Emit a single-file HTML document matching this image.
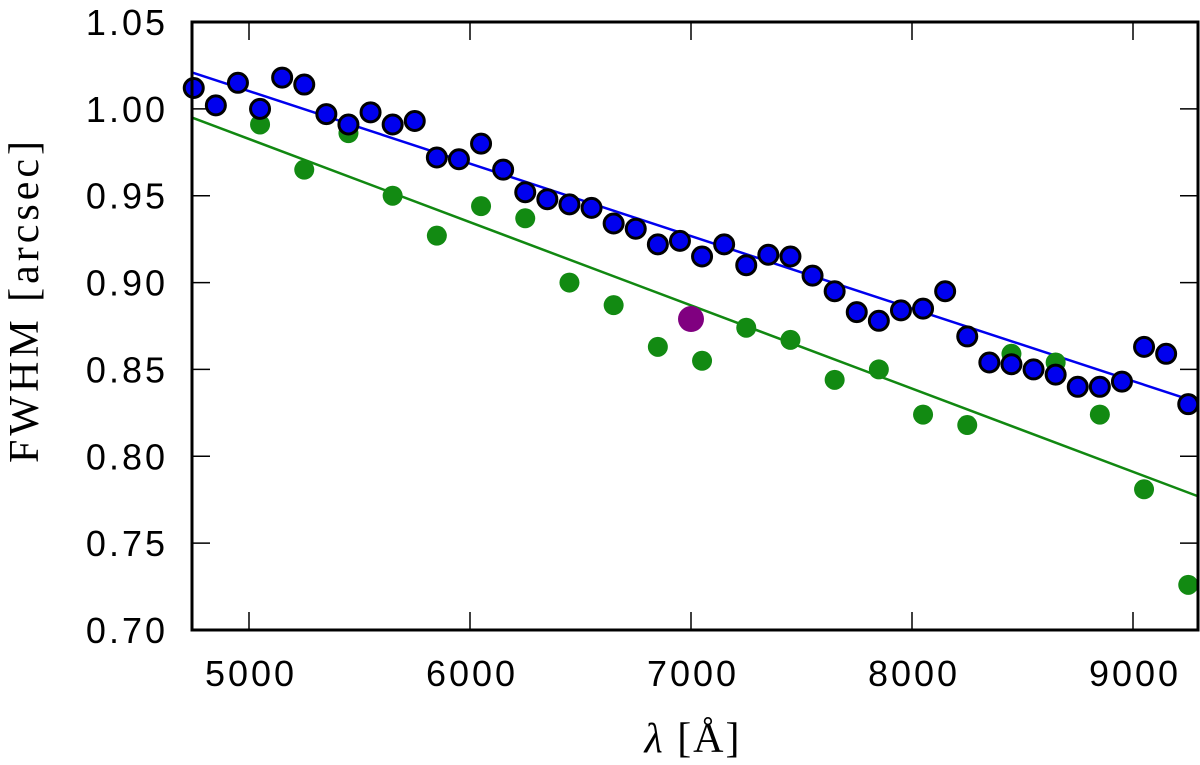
<!DOCTYPE html>
<html><head><meta charset="utf-8"><style>
body{margin:0;background:#fff}
svg{display:block}
.tk{font-family:"Liberation Sans",sans-serif;font-size:36px;fill:#000;letter-spacing:3px}
.lab{font-family:"Liberation Serif",serif;font-size:42px;fill:#000}
</style></head><body>
<svg id="chart" width="1200" height="765" viewBox="0 0 1200 765">
<g id="ticks"></g>
<g id="lines"></g>
<g id="pts"></g>
<rect x="192" y="22" width="1006" height="608" fill="none" stroke="#000" stroke-width="3"/>
<text class="lab" x="693" y="752" text-anchor="middle" letter-spacing="2"><tspan font-style="italic">λ</tspan> [Å]</text>
<text class="lab" transform="translate(38,300) rotate(-90)" text-anchor="middle" letter-spacing="4">FWHM [arcsec]</text>
</svg>
<script>
const blueX=[4750,4850,4950,5050,5150,5250,5350,5450,5550,5650,5750,5850,5950,6050,6150,6250,6350,6450,6550,6650,6750,6850,6950,7050,7150,7250,7350,7450,7550,7650,7750,7850,7950,8050,8150,8250,8350,8450,8550,8650,8750,8850,8950,9050,9150,9250];
const blueY=[1.012,1.002,1.015,1.000,1.018,1.014,0.997,0.991,0.998,0.991,0.993,0.972,0.971,0.980,0.965,0.952,0.948,0.945,0.943,0.934,0.931,0.922,0.924,0.915,0.922,0.910,0.916,0.915,0.904,0.895,0.883,0.878,0.884,0.885,0.895,0.869,0.854,0.853,0.850,0.847,0.840,0.840,0.843,0.863,0.859,0.830];
const greenX=[5050,5250,5450,5650,5850,6050,6250,6450,6650,6850,7050,7250,7450,7650,7850,8050,8250,8450,8650,8850,9050,9250];
const greenY=[0.991,0.965,0.986,0.950,0.927,0.944,0.937,0.900,0.887,0.863,0.855,0.874,0.867,0.844,0.850,0.824,0.818,0.859,0.854,0.824,0.781,0.726];
const purpleX=[7000], purpleY=[0.879];
const blueFitX=[4742,9294], blueFitY=[1.021,0.831];
const greenFitX=[4742,9294], greenFitY=[0.995,0.777];
const xTicks=[5000,6000,7000,8000,9000];
const yTicks=[0.70,0.75,0.80,0.85,0.90,0.95,1.00,1.05];
const NS="http://www.w3.org/2000/svg";
const X=v=>249+(v-5000)*0.221;
const Y=v=>630-(v-0.70)*(608/0.35);
function mk(t,a,p){const e=document.createElementNS(NS,t);for(const k in a)e.setAttribute(k,a[k]);p.appendChild(e);return e;}
const tg=document.getElementById('ticks');
xTicks.forEach(v=>{
 const l=mk('line',{x1:X(v),x2:X(v),y1:630,y2:612,stroke:'#000','stroke-width':1.5},tg);
 
 
 const t=mk('text',{x:X(v)+2,y:686,'text-anchor':'middle',class:'tk'},tg);t.textContent=v;
 
 
 const l2=mk('line',{x1:X(v),x2:X(v),y1:22,y2:40,stroke:'#000','stroke-width':1.5},tg);
 
 
});
yTicks.forEach(v=>{
 const l=mk('line',{x1:192,x2:210,y1:Y(v),y2:Y(v),stroke:'#000','stroke-width':1.5},tg);
 
 
 const l2=mk('line',{x1:1180,x2:1198,y1:Y(v),y2:Y(v),stroke:'#000','stroke-width':1.5},tg);
 
 
 const t=mk('text',{x:168,y:Y(v)+13,'text-anchor':'end',class:'tk'},tg);t.textContent=v.toFixed(2);
 
 
});
const lg=document.getElementById('lines');
const bl=mk('line',{x1:X(blueFitX[0]),y1:Y(blueFitY[0]),x2:X(blueFitX[1]),y2:Y(blueFitY[1]),stroke:'#0000ee','stroke-width':2.5},lg);


const gl=mk('line',{x1:X(greenFitX[0]),y1:Y(greenFitY[0]),x2:X(greenFitX[1]),y2:Y(greenFitY[1]),stroke:'#118811','stroke-width':2.5},lg);


const pg=document.getElementById('pts');
greenX.forEach((x,i)=>{
 const c=mk('circle',{cx:X(x),cy:Y(greenY[i]),r:10,fill:'#128a12'},pg);
 
 
});
blueX.forEach((x,i)=>{
 const c=mk('circle',{cx:X(x),cy:Y(blueY[i]),r:9.5,fill:'#0000ee',stroke:'#000','stroke-width':3},pg);
 
 
});
purpleX.forEach((x,i)=>{
 const c=mk('circle',{cx:X(x),cy:Y(purpleY[i]),r:13,fill:'#800080'},pg);
 
 
});
</script>
</body></html>
